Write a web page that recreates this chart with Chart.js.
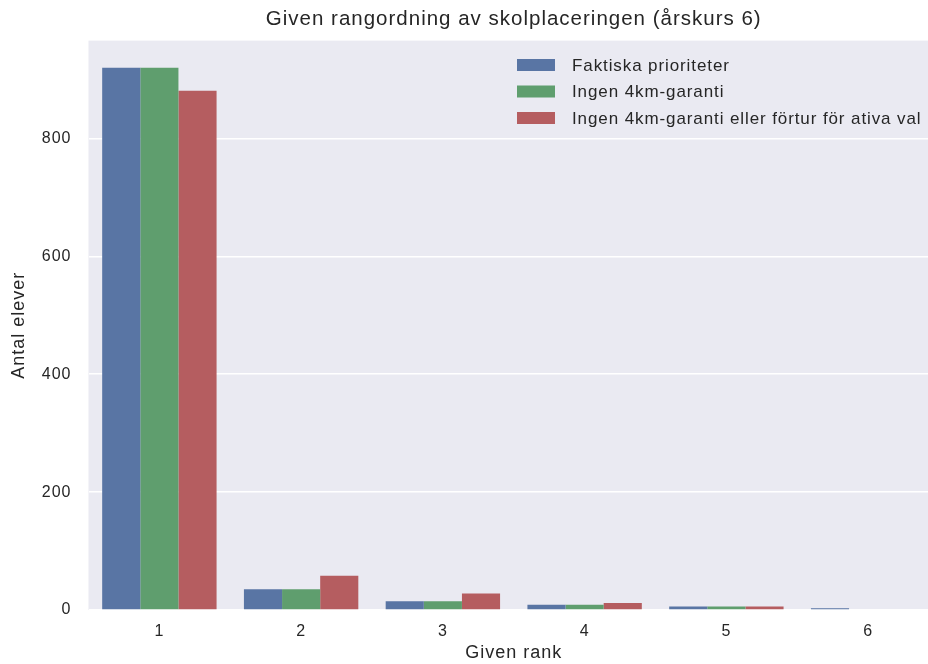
<!DOCTYPE html>
<html>
<head>
    <title>Given rangordning</title>
    <style>
        body, html {
            margin: 0;
            padding: 0;
            background: #ffffff;
            overflow: hidden;
        }
        #wrap {
            width: 939px;
            height: 664px;
        }
    </style>
</head>
<body>
    <div id="wrap"><canvas id="chart"></canvas></div>

    <script src="https://cdn.jsdelivr.net/npm/chart.js"></script>
    <script>
        // data
        let ranks = ["1", "2", "3", "4", "5", "6"];
        let faktiska = [920, 35, 15, 9, 6, 3];
        let ingen4km = [920, 35, 15, 9, 6, 0];
        let ingenFortur = [881, 58, 28, 12, 6, 0];
        let seriesNames = ["Faktiska prioriteter", "Ingen 4km-garanti", "Ingen 4km-garanti eller förtur för ativa val"];
        let yTicks = [0, 200, 400, 600, 800];

        let colors = ['#5975a4', '#5f9e6e', '#b55d60'];
        let font = "Arial, 'Liberation Sans', sans-serif";

        // the reference text is a bit wider than plain Arial
        let spacing = {
            id: 'spacing',
            beforeLayout(chart) { chart.ctx.letterSpacing = '1px'; },
            beforeDraw(chart) { chart.ctx.letterSpacing = '1px'; }
        };

        // grey panel behind the bars, seaborn style
        let panelBg = {
            id: 'panelBg',
            beforeDraw(chart) {
                let a = chart.chartArea, ctx = chart.ctx;
                ctx.save();
                ctx.fillStyle = '#eaeaf2';
                ctx.fillRect(a.left, a.top, a.right - a.left, a.bottom - a.top);
                ctx.restore();
            }
        };

        // legend drawn inside the plot, top right, no frame
        let innerLegend = {
            id: 'innerLegend',
            afterDraw(chart) {
                let ctx = chart.ctx;
                ctx.save();
                ctx.font = '17px ' + font;
                ctx.letterSpacing = '0.9px';
                ctx.textBaseline = 'middle';
                chart.data.datasets.forEach((ds, i) => {
                    let y = 65 + i * 26.5;
                    ctx.fillStyle = ds.backgroundColor;
                    ctx.fillRect(517, y - 6, 38, 12);
                    ctx.fillStyle = '#262626';
                    ctx.fillText(ds.label, 572, y + 1);
                });
                ctx.restore();
            }
        };

        let chart = new Chart(document.getElementById('chart'), {
            type: 'bar',
            data: {
                labels: ranks,
                datasets: [
                    { label: seriesNames[0], data: faktiska, backgroundColor: colors[0] },
                    { label: seriesNames[1], data: ingen4km, backgroundColor: colors[1] },
                    { label: seriesNames[2], data: ingenFortur, backgroundColor: colors[2] }
                ]
            },
            options: {
                responsive: true,
                maintainAspectRatio: false,
                animation: false,
                layout: { padding: { left: 0, right: 0, top: 0, bottom: 0 } },
                datasets: {
                    bar: { categoryPercentage: 0.807, barPercentage: 1.0 }
                },
                plugins: {
                    legend: { display: false },
                    tooltip: { enabled: false },
                    title: {
                        display: true,
                        text: 'Given rangordning av skolplaceringen (årskurs 6)',
                        fullSize: false,
                        color: '#262626',
                        font: { family: font, size: 20.5, weight: 'normal' },
                        padding: { top: 7, bottom: 9 }
                    }
                },
                scales: {
                    x: {
                        grid: { display: false, drawTicks: false },
                        border: { display: false },
                        ticks: { color: '#262626', font: { family: font, size: 16 }, padding: 12 },
                        title: {
                            display: true,
                            text: 'Given rank',
                            color: '#262626',
                            font: { family: font, size: 18 },
                            padding: { top: 0, bottom: 0 }
                        },
                        afterFit(scale) { scale.height = 54; }
                    },
                    y: {
                        min: 0,
                        max: 966,
                        grid: { color: '#ffffff', lineWidth: 1.5, drawTicks: false },
                        border: { display: false },
                        ticks: { color: '#262626', font: { family: font, size: 16 }, padding: 17 },
                        afterBuildTicks(scale) {
                            scale.ticks = yTicks.map(v => ({ value: v }));
                        },
                        title: {
                            display: true,
                            text: 'Antal elever',
                            color: '#262626',
                            font: { family: font, size: 18 },
                            padding: { top: 8, bottom: 0 }
                        },
                        afterFit(scale) { scale.width = 88.5; }
                    }
                }
            },
            plugins: [spacing, panelBg, innerLegend]
        });
    </script>
</body>
</html>
